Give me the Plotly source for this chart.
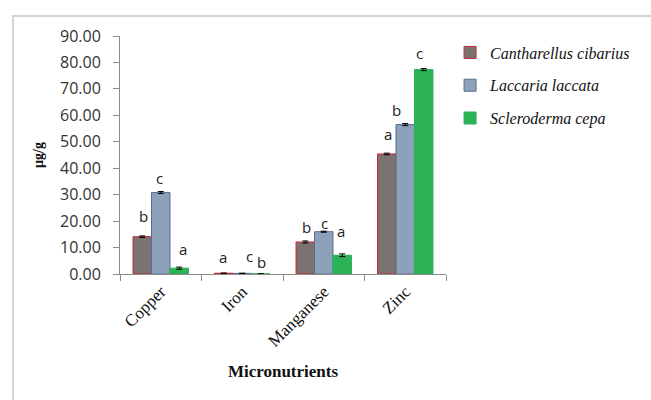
import plotly.graph_objects as go

categories = ["Copper", "Iron", "Manganese", "Zinc"]
series_names = ["Cantharellus cibarius", "Laccaria laccata", "Scleroderma cepa"]
cantharellus = [14.1, 0.30, 12.1, 45.4]
laccaria = [30.8, 0.25, 16.0, 56.5]
scleroderma = [2.2, 0.05, 7.1, 77.3]
cantharellus_err = [0.3, 0.02, 0.4, 0.3]
laccaria_err = [0.4, 0.02, 0.2, 0.4]
scleroderma_err = [0.4, 0.01, 0.5, 0.4]
cantharellus_letters = ["b", "a", "b", "a"]
laccaria_letters = ["c", "c", "c", "b"]
scleroderma_letters = ["a", "b", "a", "c"]
y_ticks = [0, 10, 20, 30, 40, 50, 60, 70, 80, 90]

values = [cantharellus, laccaria, scleroderma]
errors = [cantharellus_err, laccaria_err, scleroderma_err]
letters = [cantharellus_letters, laccaria_letters, scleroderma_letters]
fills = ["#7B7372", "#8EA1BB", "#2BB257"]
lines = ["#C8282E", "#566F90", "#2BB257"]

# label offsets (pixels) relative to bar top / category centre
x_shifts = [[-17, -19, -17, -17], [-1.5, 7, 1, -8.5], [22, 19, 17, 14]]
y_shifts = [[21, 16, 15, 20], [15, 17, 9, 15], [19, 12, 24, 17]]

fig = go.Figure()
for i in range(3):
    fig.add_trace(go.Bar(
        x=categories, y=values[i], name="<i>" + series_names[i] + "</i>",
        legendgroup=series_names[i],
        marker=dict(color=fills[i], line=dict(color=lines[i], width=1)),
        error_y=dict(type="data", array=errors[i], color="black", thickness=1, width=3),
    ))

annotations = []
for i in range(3):
    for j, c in enumerate(categories):
        annotations.append(dict(
            x=c, y=values[i][j], xref="x", yref="y", text=letters[i][j],
            showarrow=False, xshift=x_shifts[i][j], yshift=y_shifts[i][j],
            font=dict(family="Open Sans, DejaVu Sans", size=15, color="#222"),
            xanchor="center", yanchor="middle",
        ))

fig.update_layout(
    width=651, height=400,
    margin=dict(l=120, r=205, t=36, b=126, autoexpand=False),
    paper_bgcolor="white", plot_bgcolor="white",
    barmode="group", bargap=0.32, bargroupgap=0,
    showlegend=True,
    legend=dict(x=1.0125, y=1.002, xanchor="left", yanchor="top",
                font=dict(family="Liberation Serif", size=16, color="#111"),
                tracegroupgap=9, itemwidth=30, bgcolor="rgba(0,0,0,0)"),
    annotations=annotations,
    shapes=[dict(type="rect", xref="paper", yref="paper", x0=-0.328, x1=2.5, y0=-1.0, y1=1.084,
                 line=dict(color="#D4D4D4", width=2), fillcolor="rgba(0,0,0,0)", layer="below")],
)
fig.update_xaxes(
    automargin=False,
    showline=True, linecolor="#8C8C8C", linewidth=1,
    ticks="outside", ticklen=6, tickcolor="#8C8C8C", tickson="boundaries",
    tickangle=-45, tickfont=dict(family="Liberation Serif", size=17, color="#111"),
    title=dict(text="<b>Micronutrients</b>", font=dict(family="Liberation Serif", size=17, color="#111"), standoff=15),
    showgrid=False,
)
fig.update_yaxes(
    automargin=False,
    range=[0, 90], tickvals=y_ticks, tickformat=".2f",
    showline=True, linecolor="#8C8C8C", linewidth=1,
    ticks="outside", ticklen=6, tickcolor="#8C8C8C", ticklabelstandoff=9,
    tickfont=dict(family="Open Sans, DejaVu Sans", size=16, color="#333"),
    title=dict(text="<b>µg/g</b>", font=dict(family="Liberation Serif", size=14, color="#111"), standoff=13),
    showgrid=False, zeroline=False,
)
fig.write_html("out.html", config={"displayModeBar": False},
               post_script="document.body.style.margin='0';document.body.style.padding='0';")
